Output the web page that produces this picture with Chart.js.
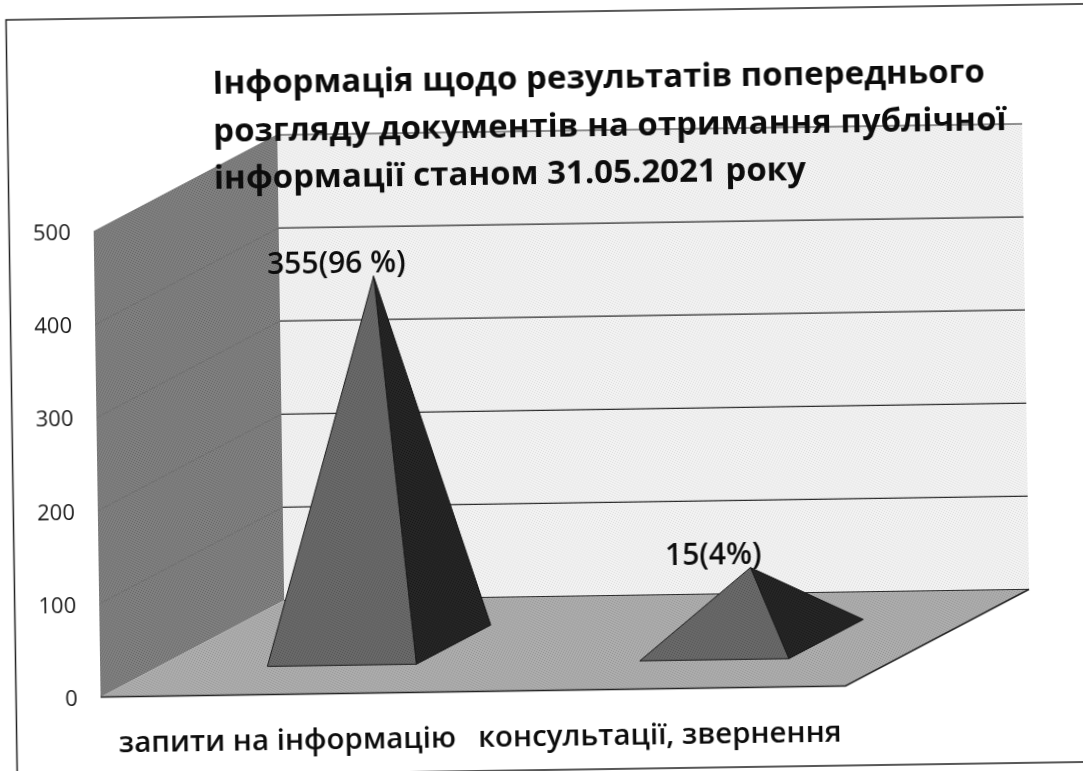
<!DOCTYPE html>
<html lang="uk">
<head>
  <meta charset="UTF-8" />
  <title>Інформація щодо результатів попереднього розгляду</title>
  <script src="https://cdn.jsdelivr.net/npm/chart.js"></script>
  <style>
    html, body {
      margin: 0;
      padding: 0;
      width: 100%;
      height: 100%;
      background: #fff;
      overflow: hidden;
    }

    /* the scan is slightly skewed, so the whole canvas is turned */
    canvas {
      position: absolute;
      left: 0;
      top: 0;
      transform-origin: 541.5px 385.5px;
      transform: rotate(-0.85deg);
    }
  </style>
</head>
<body>
  <canvas id="pyramidChart" width="1110" height="790"></canvas>

  <script>
    const titleLines = [
      'Інформація щодо результатів попереднього',
      'розгляду документів на отримання публічної',
      'інформації станом 31.05.2021 року'
    ];
    const categories = ['запити на інформацію', 'консультації, звернення'];
    // apex heights as read on the axis (the pyramids do not follow their captions)
    const apexValues = [397, 78];
    const captions = ['355(96 %)', '15(4%)'];
    const yTicks = [0, 100, 200, 300, 400, 500];

    const depth = { x: 185, y: -94 };
    const baseFront = 0.3;
    const baseBack = 0.705;

    function screenPattern(ctx, base, speck) {
      const c = document.createElement('canvas');
      c.width = c.height = 5;
      const g = c.getContext('2d');
      g.fillStyle = base;
      g.fillRect(0, 0, 5, 5);
      g.fillStyle = speck;
      [[0, 0], [2, 1], [4, 2], [1, 3], [3, 4]].forEach(p => g.fillRect(p[0], p[1], 1, 1));
      return ctx.createPattern(c, 'repeat');
    }

    function poly(ctx, pts, fill, stroke) {
      ctx.beginPath();
      pts.forEach((p, i) => i ? ctx.lineTo(p[0], p[1]) : ctx.moveTo(p[0], p[1]));
      ctx.closePath();
      if (fill) { ctx.fillStyle = fill; ctx.fill(); }
      if (stroke) { ctx.strokeStyle = stroke; ctx.lineWidth = 1; ctx.stroke(); }
    }

    const pagePlugin = {
      id: 'page',
      afterLayout(chart) {
        chart.titleBlock.left = 217;
        chart.titleBlock.right = 1100;
        chart.titleBlock.top = 56;
      },
      beforeDraw(chart) {
        const { ctx, chartArea: a, scales: { y } } = chart;
        ctx.save();

        // sheet frame
        ctx.strokeStyle = '#222';
        ctx.lineWidth = 1.5;
        ctx.beginPath();
        ctx.moveTo(1110, 12);
        ctx.lineTo(11.5, 12);
        ctx.lineTo(11.5, 770);
        ctx.lineTo(1110, 770);
        ctx.stroke();

        const bl = [a.left, a.bottom];
        const br = [a.right, a.bottom];
        const tl = [a.left, a.top];
        const bbl = [a.left + depth.x, a.bottom + depth.y];
        const bbr = [a.right + depth.x, a.bottom + depth.y];
        const tbl = [a.left + depth.x, a.top + depth.y];
        const tbr = [a.right + depth.x, a.top + depth.y];

        poly(ctx, [tbl, tbr, bbr, bbl], screenPattern(ctx, '#f2f2f2', '#dedede'));
        poly(ctx, [tl, tbl, bbl, bl], screenPattern(ctx, '#808080', '#666666'));
        poly(ctx, [bl, bbl, bbr, br], screenPattern(ctx, '#adadad', '#949494'));

        // grid lines, back wall strong, side wall faint
        yTicks.forEach(v => {
          const py = y.getPixelForValue(v);
          if (v > 0) {
            ctx.strokeStyle = '#707070';
            ctx.lineWidth = 1;
            ctx.beginPath();
            ctx.moveTo(a.left, py);
            ctx.lineTo(a.left + depth.x, py + depth.y);
            ctx.stroke();
          }
          ctx.strokeStyle = '#2b2b2b';
          ctx.lineWidth = 1.2;
          ctx.beginPath();
          ctx.moveTo(a.left + depth.x, py + depth.y);
          ctx.lineTo(a.right + depth.x, py + depth.y);
          ctx.stroke();
        });

        // floor front edge
        ctx.strokeStyle = '#222';
        ctx.lineWidth = 1.5;
        ctx.beginPath();
        ctx.moveTo(bl[0], bl[1]);
        ctx.lineTo(br[0], br[1]);
        ctx.lineTo(bbr[0], bbr[1]);
        ctx.stroke();
        ctx.restore();
      },
      afterDatasetsDraw(chart) {
        const { ctx } = chart;
        const bars = chart.getDatasetMeta(0).data;
        ctx.save();
        bars.forEach((bar, i) => {
          const half = bar.width / 2;
          const fx = bar.x + depth.x * baseFront;
          const fy = bar.base + depth.y * baseFront;
          const dx = depth.x * (baseBack - baseFront);
          const dy = depth.y * (baseBack - baseFront);
          const apexX = fx + dx / 2;
          const apexY = fy + dy / 2 - (bar.base - bar.y);
          const fl = [fx - half, fy];
          const fr = [fx + half, fy];
          const rb = [fx + half + dx, fy + dy];
          const apex = [apexX, apexY];

          poly(ctx, [fr, rb, apex], screenPattern(ctx, '#262626', '#161616'), '#111');
          poly(ctx, [fl, fr, apex], screenPattern(ctx, '#696969', '#555555'), '#1c1c1c');

          ctx.fillStyle = '#0c0c0c';
          ctx.font = '600 30px "Open Sans"';
          ctx.textAlign = 'center';
          ctx.textBaseline = 'middle';
          ctx.fillText(captions[i], apexX - 37, apexY - 12);
        });
        ctx.restore();
      }
    };

    new Chart(document.getElementById('pyramidChart'), {
      type: 'bar',
      data: {
        labels: categories,
        datasets: [{
          data: apexValues,
          backgroundColor: 'rgba(0,0,0,0)',
          barPercentage: 0.4,
          categoryPercentage: 1
        }]
      },
      options: {
        responsive: false,
        animation: false,
        layout: { padding: { top: 82.5, right: 269, bottom: 0, left: 0 } },
        plugins: {
          legend: { display: false },
          tooltip: { enabled: false },
          title: {
            display: true,
            text: titleLines,
            align: 'start',
            color: '#0c0c0c',
            padding: 0,
            font: { family: 'Open Sans', weight: 'bold', size: 33, lineHeight: '47.5px' }
          }
        },
        scales: {
          x: {
            grid: { display: false },
            border: { display: false },
            afterFit(scale) { scale.height = 99.5; },
            ticks: {
              color: '#0c0c0c',
              padding: 21,
              maxRotation: 0,
              autoSkip: false,
              font: { family: 'Open Sans', weight: '600', size: 29.5 }
            }
          },
          y: {
            min: 0,
            max: 500,
            afterBuildTicks(scale) { scale.ticks = yTicks.map(v => ({ value: v })); },
            afterFit(scale) { scale.width = 96; },
            grid: { display: false },
            border: { display: false },
            ticks: {
              color: '#1c1c1c',
              padding: 15,
              labelOffset: 2,
              font: { family: 'Open Sans', size: 22 }
            }
          }
        }
      },
      plugins: [pagePlugin]
    });
  </script>
</body>
</html>
